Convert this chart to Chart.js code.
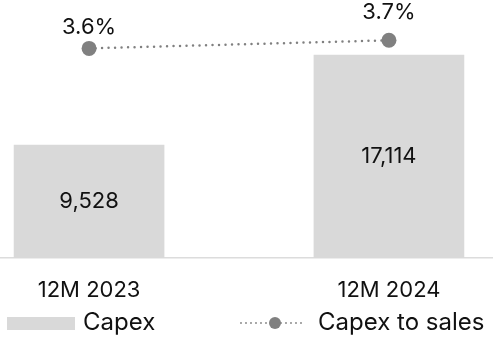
<!DOCTYPE html>
<html>
<head>
<meta charset="utf-8">
<script src="https://cdn.jsdelivr.net/npm/chart.js@4"></script>
<style>
  html, body { margin: 0; padding: 0; background: #fff; }
  #wrap { width: 493px; height: 338px; }
</style>
</head>
<body>
<div id="wrap"><canvas id="capexChart"></canvas></div>
<script>
const categories = ["12M 2023", "12M 2024"];
const capex = [9528, 17114];
const capexToSales = [3.6, 3.7];

const FONT = "Inter, 'Open Sans', sans-serif";
const BAR_COLOR = "#d9d9d9";
const LINE_COLOR = "#808080";

// value labels: inside the bars, above the points
const valueLabels = {
  id: "valueLabels",
  afterDatasetsDraw(chart) {
    const ctx = chart.ctx;
    ctx.save();
    ctx.fillStyle = "#111";
    ctx.font = "22px " + FONT;
    ctx.textAlign = "center";
    ctx.textBaseline = "middle";
    chart.getDatasetMeta(0).data.forEach((bar, i) => {
      const mid = (bar.y + bar.base) / 2;
      ctx.fillText(capex[i].toLocaleString("en-US"), bar.x, mid);
    });
    const lift = [21, 28];
    chart.getDatasetMeta(1).data.forEach((pt, i) => {
      ctx.fillText(capexToSales[i].toFixed(1) + "%", pt.x, pt.y - lift[i]);
    });
    ctx.restore();
  }
};

// legend row under the axis labels
const bottomLegend = {
  id: "bottomLegend",
  afterDraw(chart) {
    const ctx = chart.ctx;
    const y = 323;
    ctx.save();
    ctx.font = "24px " + FONT;
    ctx.textBaseline = "middle";
    ctx.fillStyle = BAR_COLOR;
    ctx.fillRect(7, y - 6, 68, 13);
    ctx.fillStyle = "#111";
    ctx.fillText(chart.data.datasets[0].label, 83, y);

    ctx.strokeStyle = LINE_COLOR;
    ctx.lineWidth = 1.8;
    ctx.lineCap = "round";
    ctx.setLineDash([0, 5]);
    ctx.beginPath();
    ctx.moveTo(241, y);
    ctx.lineTo(306, y);
    ctx.stroke();
    ctx.setLineDash([]);
    ctx.fillStyle = LINE_COLOR;
    ctx.beginPath();
    ctx.arc(275, y, 6, 0, Math.PI * 2);
    ctx.fill();
    ctx.fillStyle = "#111";
    ctx.fillText(chart.data.datasets[1].label, 318, y);
    ctx.restore();
  }
};

new Chart(document.getElementById("capexChart"), {
  data: {
    datasets: [
      {
        type: "bar",
        label: "Capex",
        data: capex.map((v, i) => ({ x: i, y: v })),
        backgroundColor: BAR_COLOR,
        barThickness: 150,
        yAxisID: "y",
        order: 2
      },
      {
        type: "line",
        label: "Capex to sales",
        data: capexToSales.map((v, i) => ({ x: i, y: v })),
        borderColor: LINE_COLOR,
        borderWidth: 2.5,
        borderDash: [0, 6.5],
        borderCapStyle: "round",
        pointRadius: 7.5,
        pointBackgroundColor: LINE_COLOR,
        pointBorderWidth: 0,
        yAxisID: "y2",
        order: 1
      }
    ]
  },
  options: {
    responsive: true,
    maintainAspectRatio: false,
    animation: false,
    layout: { padding: 0, autoPadding: false },
    plugins: {
      legend: { display: false },
      tooltip: { enabled: false }
    },
    scales: {
      x: {
        type: "linear",
        offset: false,
        min: -0.297,
        max: 1.347,
        grid: { display: false },
        border: { color: "#dcdcdc", width: 1.5 },
        afterBuildTicks: (axis) => {
          axis.ticks = categories.map((_, i) => ({ value: i }));
        },
        afterFit: (axis) => {
          axis.paddingLeft = 0;
          axis.paddingRight = 0;
          axis.height = 80;
        },
        ticks: {
          padding: 11,
          color: "#111",
          font: { family: FONT, size: 22 },
          maxRotation: 0,
          callback: (value) => categories[value]
        }
      },
      y: {
        display: false,
        min: 0,
        max: 21750
      },
      y2: {
        display: false,
        min: 1.0,
        max: 4.2
      }
    }
  },
  plugins: [valueLabels, bottomLegend]
});
</script>
</body>
</html>
